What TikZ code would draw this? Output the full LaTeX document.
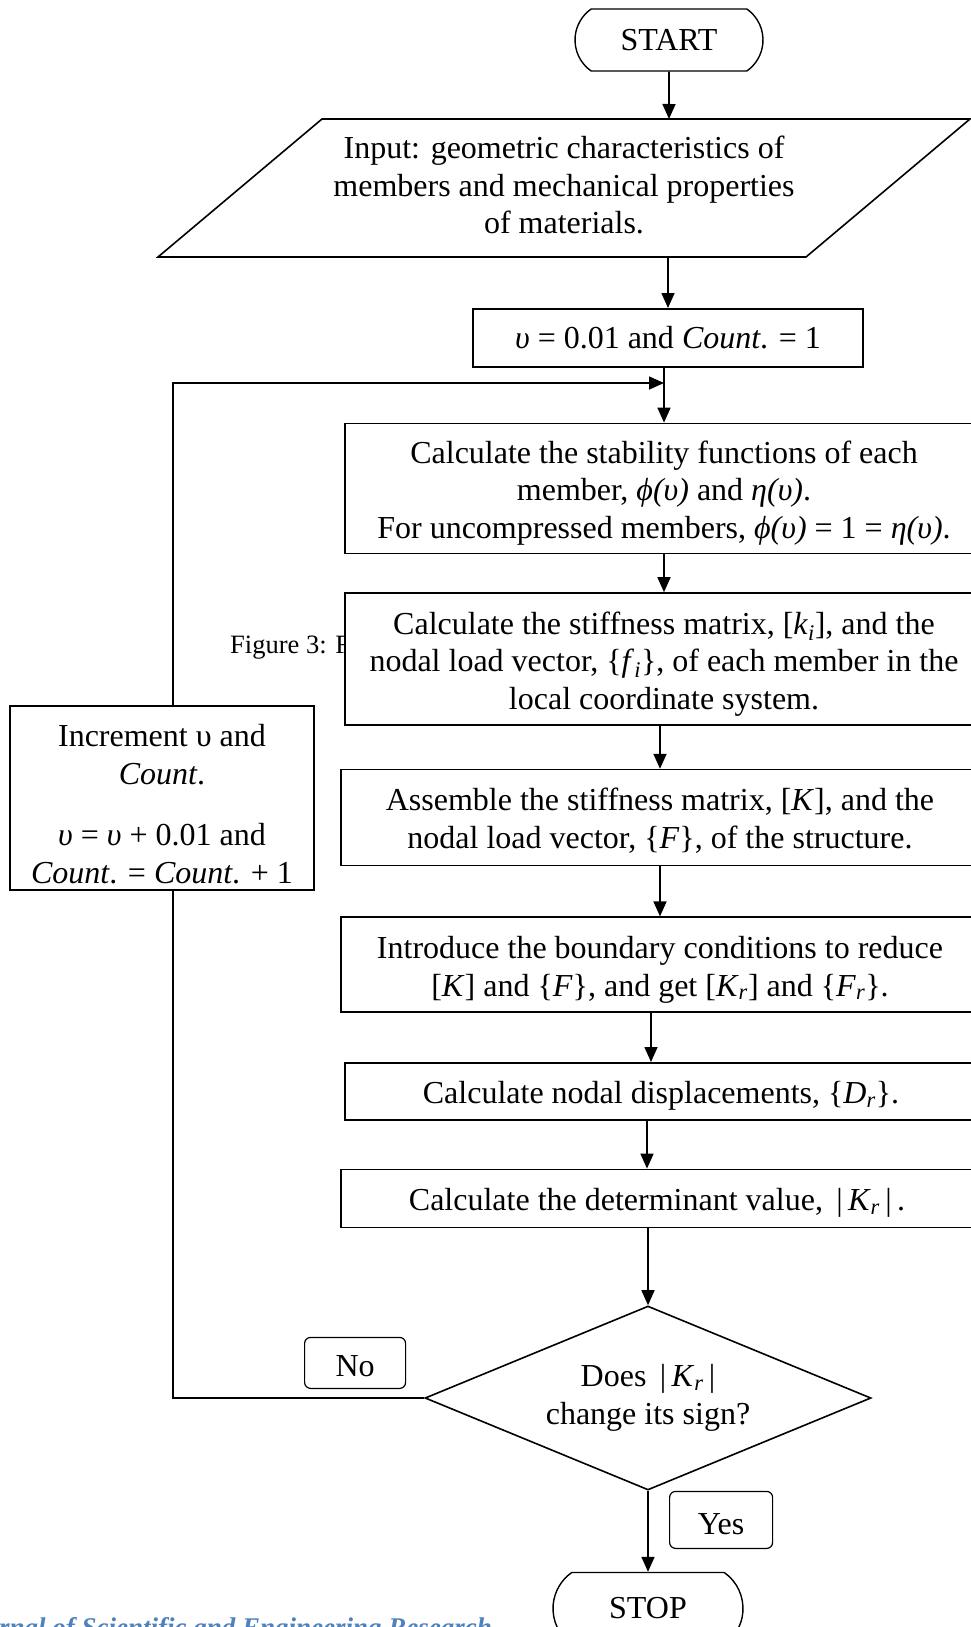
\documentclass[tikz,border=0pt]{standalone}
\usepackage{fontspec}
\setmainfont{Liberation Serif}
\usepackage{xcolor}
\usepackage{tikz}
\usetikzlibrary{arrows.meta,shapes.misc,shapes.geometric,positioning}
\definecolor{journalblue}{RGB}{79,129,189}
\newcommand{\Kr}{\textit{K}\textsubscript{\textit{r}}}
\newcommand{\Fr}{\textit{F}\textsubscript{\textit{r}}}
\newcommand{\fcstrut}[1][32pt]{\rule{0pt}{#1}}
\tikzset{
  fc text/.style={
    font=\fontsize{32}{37.5}\selectfont,
    align=center,
  },
  fc terminal/.style={
    fc text,
    rounded rectangle,
    rounded rectangle arc length=110,
    minimum width=192pt,
    minimum height=62pt,
    draw=black,
    line width=1.4pt,
    fill=white,
    inner sep=2pt,
  },
  fc io/.style={
    fc text,
    minimum width=648pt,
    minimum height=138pt,
    inner sep=0pt,
    outer sep=0pt,
  },
  fc box/.style={
    fc text,
    rectangle,
    minimum width=638pt,
    draw=black,
    line width=1.6pt,
    fill=white,
    inner sep=2pt,
  },
  fc decision/.style={
    fc text,
    diamond,
    aspect=2.42,
    minimum width=446pt,
    minimum height=184pt,
    draw=black,
    line width=1.6pt,
    fill=white,
    inner sep=0pt,
  },
  fc label/.style={
    fc text,
    rectangle,
    rounded corners=6pt,
    minimum width=101pt,
    minimum height=51pt,
    draw=black,
    line width=1.2pt,
    fill=white,
  },
  fc arrow/.style={-{Triangle[length=15pt,width=13pt]}, line width=1.6pt},
  fc line/.style={line width=1.6pt},
}
\begin{document}
\begin{tikzpicture}[x=1pt,y=-1pt,node distance=40pt]
  \useasboundingbox (0,0) rectangle (970,1627);
  \node[font=\fontsize{26.5}{30}\selectfont, inner sep=0pt, anchor=base west] (caption) at (230,653) {Figure 3: F};
  \node[font=\fontsize{27}{30}\selectfont\bfseries\itshape, text=journalblue, inner sep=0pt, anchor=base east] (journal) at (492,1636) {Journal of Scientific and Engineering Research};

  \node[fc terminal] (start) at (669,40) {START};
  \node[fc io] (input) at (564,188) {Input: geometric characteristics of\\ members and mechanical properties\\ of materials.\rule[-6pt]{0pt}{1pt}};
  \draw[fc line] ([xshift=82pt]input.north west) -- ([xshift=82pt]input.north east)
    -- ([xshift=-82pt]input.south east) -- ([xshift=-82pt]input.south west) -- cycle;
  \node[fc box, minimum width=390pt, minimum height=58pt, below=51pt of input, xshift=104pt] (init) {\textit{υ} = 0.01 and \textit{Count}. = 1};
  \node[fc box, minimum height=130pt, below=55pt of init.south west, anchor=north west, xshift=-128pt] (stab) {\fcstrut Calculate the stability functions of each\\ member, \textit{ϕ(υ)} and \textit{η(υ)}.\\ For uncompressed members, \textit{ϕ(υ)} = 1 = \textit{η(υ)}.};
  \node[fc box, minimum height=132pt, below=38pt of stab.south west, anchor=north west] (local) {\fcstrut Calculate the stiffness matrix, {[}\textit{k}\textsubscript{\textit{i}}], and the\\ nodal load vector, \{\textit{f}\textsubscript{\textit{i}}\}, of each member in the\\ local coordinate system.};
  \node[fc box, minimum height=96pt, below=43pt of local.south west, anchor=north west, xshift=-4pt] (assem) {\fcstrut[29pt]Assemble the stiffness matrix, {[}\textit{K}], and the\\ nodal load vector, \{\textit{F}\}, of the structure.};
  \node[fc box, minimum height=95pt, below=50pt of assem.south west, anchor=north west] (bound) {\fcstrut Introduce the boundary conditions to reduce\\ {[}\textit{K}] and \{\textit{F}\}, and get {[}\Kr] and \{\Fr\}.};
  \node[fc box, minimum width=632pt, minimum height=57pt, below=49pt of bound.south west, anchor=north west, xshift=4pt] (disp) {\fcstrut Calculate nodal displacements, \{\textit{D}\textsubscript{\textit{r}}\}.};
  \node[fc box, minimum width=632pt, minimum height=58pt, below=48pt of disp.south west, anchor=north west, xshift=-4pt] (det) {\fcstrut Calculate the determinant value, \,|\,\Kr\,|\,.};
  \node[fc decision, below=77pt of det, xshift=-9pt] (dec) {Does \,|\,\Kr\,|\\ change its sign?};
  \node[fc terminal, minimum width=194pt, minimum height=72pt, below=81pt of dec] (stop) {STOP};
  \node[fc label, above left=9pt and 18pt of dec.west] (no) {\fcstrut[28pt]No};
  \node[fc label, minimum width=103pt, minimum height=57pt, below right=0pt and 21pt of dec.south] (yes) {\fcstrut[29pt]Yes};
  \node[fc box, minimum width=304pt, minimum height=184pt] (incr) at (162,798) {\fcstrut[34pt]Increment υ and\\ \textit{Count}.\\[24pt] \textit{υ} = \textit{υ} + 0.01 and\\ \textit{Count}. = \textit{Count}. + 1};
  \coordinate (fb) at (173,383);

  \draw[fc arrow] (start) -- (start |- input.north);
  \draw[fc arrow] (init.north |- input.south) -- (init.north);
  \draw[fc arrow] (stab.north |- init.south) -- (stab.north);
  \draw[fc arrow] (local.north |- stab.south) -- (local.north);
  \draw[fc arrow] (assem.north |- local.south) -- (assem.north);
  \draw[fc arrow] (bound.north |- assem.south) -- (bound.north);
  \draw[fc arrow] ([xshift=-10pt]disp.north |- bound.south) -- ([xshift=-10pt]disp.north);
  \draw[fc arrow] ([xshift=-10pt]det.north |- disp.south) -- ([xshift=-10pt]det.north);
  \draw[fc arrow] (dec.north |- det.south) -- (dec.north);
  \draw[fc arrow] (dec.south) -- (stop.north);
  \draw[fc line] (dec.west) -| (fb |- incr.south);
  \draw[fc arrow] (fb |- incr.north) |- (stab.north |- fb);
\end{tikzpicture}
\end{document}
